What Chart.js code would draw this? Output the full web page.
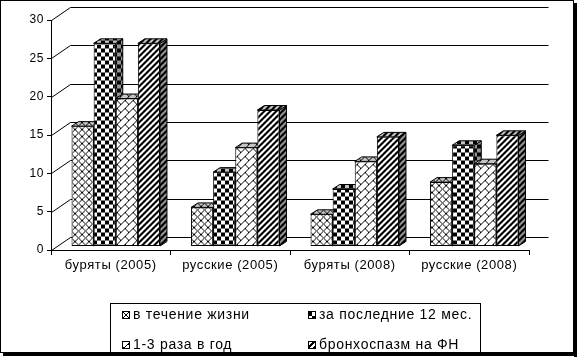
<!DOCTYPE html>
<html><head><meta charset="utf-8">
<script src="https://cdn.jsdelivr.net/npm/chart.js@4/dist/chart.umd.min.js"></script>
<style>html,body{margin:0;padding:0;background:#fff;}#wrap{position:relative;width:577px;height:360px;}</style>
</head><body><div id="wrap"><canvas id="c" width="577" height="360"></canvas></div>
<script>
const categories = ['буряты (2005)', 'русские (2005)', 'буряты (2008)', 'русские (2008)'];
const seriesNames = ['в течение жизни', 'за последние 12 мес.', '1-3 раза в год', 'бронхоспазм на ФН'];
const lifetime = [15.7, 5.1, 4.2, 8.4];
const last12 = [26.5, 9.7, 7.5, 13.2];
const times13 = [19.3, 12.9, 11.1, 10.8];
const bronch = [26.5, 17.8, 14.3, 14.5];
const yTicks = [0, 5, 10, 15, 20, 25, 30];

const FONT = 'Liberation Sans, Arial, sans-serif';
const patternKinds = ['cross', 'checker', 'brick', 'stripes'];

function makePattern(kind, bg, fg) {
  const n = kind === 'checker' ? 8 : (kind === 'stripes' ? 6 : (kind === 'cross' ? 7 : 8));
  const c = document.createElement('canvas');
  c.width = n; c.height = n;
  const g = c.getContext('2d');
  g.fillStyle = bg; g.fillRect(0, 0, n, n);
  g.fillStyle = fg;
  for (let y = 0; y < n; y++) {
    for (let x = 0; x < n; x++) {
      let on = false;
      if (kind === 'cross') on = (x === y) || (x === n - 1 - y);
      else if (kind === 'checker') on = ((x < 4) !== (y < 4));
      else if (kind === 'stripes') on = ((x + y) % 6) < 3;
      else if (kind === 'brick') on = ((x + y) % 8 === 7) || ((x - y + 8) % 8 === 0 && x < 4);
      if (on) g.fillRect(x, y, 1, 1);
    }
  }
  return g.createPattern(c, 'repeat');
}
const frontPat = patternKinds.map(k => makePattern(k, '#ffffff', '#000000'));
const topPat = patternKinds.map(k => makePattern(k, '#c4c4c4', '#000000'));
const sidePat = patternKinds.map(k => makePattern(k, '#959595', '#000000'));

const seriesValues = [lifetime, last12, times13, bronch];

const WALL_DX = 19, WALL_DY = -13;   // back wall offset
const BAR_DX = 5, BAR_DY = -3.5;     // bar plane offset
const DEP_DX = 7, DEP_DY = -4.5;     // bar depth

const pseudo3d = {
  id: 'pseudo3d',
  beforeUpdate(chart) { chart.ctx.letterSpacing = '0.6px'; },
  beforeDraw(chart) {
    const ctx = chart.ctx;
    ctx.letterSpacing = '0.6px';
    ctx.save();
    ctx.fillStyle = '#fff';
    ctx.fillRect(0, 0, chart.width, chart.height);
    ctx.restore();
  },
  beforeDatasetsDraw(chart) {
    const ctx = chart.ctx;
    const ys = chart.scales.y;
    const a = chart.chartArea;
    ctx.save();
    ctx.strokeStyle = '#000';
    ctx.lineWidth = 1;
    yTicks.forEach(v => {
      const y = Math.round(ys.getPixelForValue(v));
      ctx.beginPath();
      ctx.moveTo(a.left + 0.5, y + 0.5);
      ctx.lineTo(a.left + WALL_DX + 0.5, y + WALL_DY + 0.5);
      ctx.lineTo(a.right + WALL_DX + 0.5, y + WALL_DY + 0.5);
      ctx.stroke();
    });
    ctx.restore();
    ctx.save();
    ctx.translate(BAR_DX, BAR_DY);
    const n = categories.length;
    for (let i = 0; i < n; i++) {
      for (let d = 0; d < chart.data.datasets.length; d++) {
        const el = chart.getDatasetMeta(d).data[i];
        const l = el.x - el.width / 2, r = el.x + el.width / 2;
        const top = el.y, base = el.base;
        ctx.beginPath();
        ctx.moveTo(r, top); ctx.lineTo(r + DEP_DX, top + DEP_DY);
        ctx.lineTo(r + DEP_DX, base + DEP_DY); ctx.lineTo(r, base); ctx.closePath();
        ctx.fillStyle = sidePat[d]; ctx.fill();
        ctx.strokeStyle = '#000'; ctx.lineWidth = 1; ctx.stroke();
        ctx.beginPath();
        ctx.moveTo(l, top); ctx.lineTo(r, top);
        ctx.lineTo(r + DEP_DX, top + DEP_DY); ctx.lineTo(l + DEP_DX, top + DEP_DY); ctx.closePath();
        ctx.fillStyle = topPat[d]; ctx.fill();
        ctx.stroke();
      }
    }
  },
  afterDatasetsDraw(chart) {
    chart.ctx.restore();
  },
  afterDraw(chart) {
    const ctx = chart.ctx;
    ctx.save();
    ctx.letterSpacing = '0.7px';
    ctx.strokeStyle = '#000';
    ctx.lineWidth = 1;
    ctx.strokeRect(110.5, 303.5, 370, 49);
    const pos = [[122, 311], [308, 311], [122, 341], [308, 341]];
    ctx.font = '14px ' + FONT;
    ctx.textBaseline = 'middle';
    [0, 1, 2, 3].forEach((d, k) => {
      const [x, y] = pos[k];
      ctx.fillStyle = frontPat[d];
      ctx.fillRect(x, y, 8, 8);
      ctx.strokeRect(x + 0.5, y + 0.5, 7, 7);
      ctx.fillStyle = '#000';
      ctx.fillText(seriesNames[d], x + 11, y + 4.5);
    });
    ctx.strokeRect(0.5, 0.5, 573, 352);
    ctx.fillStyle = '#000';
    ctx.fillRect(574, 3, 3, 354);
    ctx.fillRect(3, 353, 574, 3);
    ctx.restore();
  }
};

new Chart(document.getElementById('c'), {
  type: 'bar',
  data: {
    labels: categories,
    datasets: seriesValues.map((vals, d) => ({
      label: seriesNames[d],
      data: vals,
      backgroundColor: frontPat[d],
      borderColor: '#000',
      borderWidth: 1,
      borderSkipped: false,
      categoryPercentage: 0.74,
      barPercentage: 1.0
    }))
  },
  options: {
    responsive: false,
    animation: false,
    devicePixelRatio: 1,
    layout: { padding: { left: 0, right: 48, top: 20, bottom: 80 } },
    plugins: { legend: { display: false }, tooltip: { enabled: false } },
    scales: {
      x: {
        afterFit(s) { s.height = 30; },
        grid: { offset: true, drawOnChartArea: false, drawTicks: true, tickLength: 5, color: '#000' },
        border: { display: true, color: '#000', width: 1 },
        ticks: { color: '#000', font: { family: FONT, size: 13 }, padding: 3, maxRotation: 0 }
      },
      y: {
        min: 0, max: 30,
        afterFit(s) { s.width = 51; },
        afterBuildTicks(s) { s.ticks = yTicks.map(v => ({ value: v })); },
        grid: { drawOnChartArea: false, drawTicks: true, tickLength: 4, color: '#000' },
        border: { display: true, color: '#000', width: 1 },
        ticks: { color: '#000', font: { family: FONT, size: 12 }, padding: 3 }
      }
    }
  },
  plugins: [pseudo3d]
});
</script>
</body></html>
